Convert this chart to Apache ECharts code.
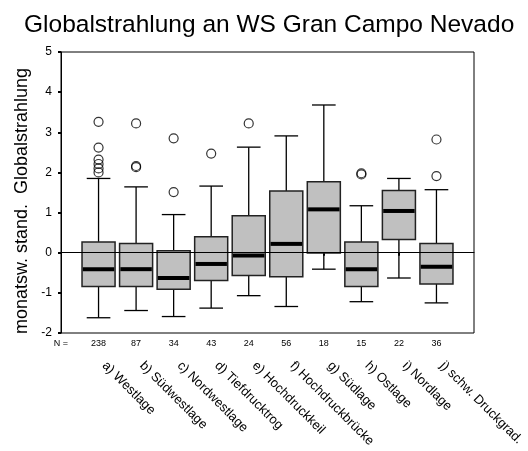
<!DOCTYPE html>
<html><head><meta charset="utf-8">
<script src="https://cdn.jsdelivr.net/npm/echarts@6/dist/echarts.min.js"></script>
<style>html,body{margin:0;padding:0;background:#fff}#c{width:528px;height:451px}</style>
</head><body><div id="c"></div>
<script>
const categories = ['a) Westlage','b) Südwestlage','c) Nordwestlage','d) Tiefdrucktrog','e) Hochdruckkeil','f) Hochdruckbrücke','g) Südlage','h) Ostlage','i) Nordlage','j) schw. Druckgrad.'];
const counts = [238, 87, 34, 43, 24, 56, 18, 15, 22, 36];
const whiskerLow  = [-1.62, -1.44, -1.59, -1.38, -1.07, -1.34, -0.41, -1.22, -0.63, -1.25];
const q1          = [-0.84, -0.84, -0.91, -0.69, -0.57, -0.60, -0.01, -0.84,  0.33, -0.78];
const median      = [-0.41, -0.41, -0.63, -0.28, -0.07,  0.22,  1.08, -0.41,  1.04, -0.35];
const q3          = [ 0.27,  0.23,  0.05,  0.40,  0.92,  1.54,  1.77,  0.27,  1.55,  0.23];
const whiskerHigh = [ 1.85,  1.64,  0.95,  1.66,  2.63,  2.91,  3.68,  1.17,  1.85,  1.57];
const outliers = [
  [3.26, 2.62, 2.32, 2.21, 2.10, 2.00],
  [3.22, 2.16, 2.13],
  [2.85, 1.51],
  [2.47],
  [3.22],
  [],
  [],
  [1.98, 1.95],
  [],
  [2.82, 1.91]
];
const yTicks = {min: -2, max: 5, interval: 1};
const title = 'Globalstrahlung an WS Gran Campo Nevado';
const yTitle = 'monatsw. stand.  Globalstrahlung';

const FONT = 'Liberation Sans, Arial, sans-serif';
// slots: empty slot at each end so boxes sit at positions 1..10
const slotNames = [''].concat(categories, ['']);
const slotCounts = [''].concat(counts.map(String), ['']);

const boxData = categories.map((c, i) => [i + 1, whiskerLow[i], q1[i], median[i], q3[i], whiskerHigh[i]]);
const outData = [];
outliers.forEach((arr, i) => arr.forEach(v => outData.push([i + 1, v])));

function renderBox(params, api) {
  const x = api.value(0);
  const band = api.size([1, 0])[0];
  const bw = band * 0.88, cw = band * 0.63;
  const pLow = api.coord([x, api.value(1)]);
  const pQ1 = api.coord([x, api.value(2)]);
  const pMed = api.coord([x, api.value(3)]);
  const pQ3 = api.coord([x, api.value(4)]);
  const pHigh = api.coord([x, api.value(5)]);
  const cx = pMed[0];
  const ls = {stroke: '#000', lineWidth: 1.3};
  return {
    type: 'group',
    children: [
      {type: 'line', shape: {x1: cx, y1: pLow[1], x2: cx, y2: pQ1[1]}, style: ls},
      {type: 'line', shape: {x1: cx, y1: pQ3[1], x2: cx, y2: pHigh[1]}, style: ls},
      {type: 'line', shape: {x1: cx - cw / 2, y1: pLow[1], x2: cx + cw / 2, y2: pLow[1]}, style: ls},
      {type: 'line', shape: {x1: cx - cw / 2, y1: pHigh[1], x2: cx + cw / 2, y2: pHigh[1]}, style: ls},
      {type: 'rect', shape: {x: cx - bw / 2, y: pQ3[1], width: bw, height: pQ1[1] - pQ3[1]},
       style: {fill: '#c0c0c0', stroke: '#222', lineWidth: 1.5}},
      {type: 'line', shape: {x1: cx - bw / 2 + 0.8, y1: pMed[1], x2: cx + bw / 2 - 0.8, y2: pMed[1]},
       style: {stroke: '#000', lineWidth: 4}}
    ]
  };
}

const chart = echarts.init(document.getElementById('c'), null, {renderer: 'canvas'});
chart.setOption({
  animation: false,
  backgroundColor: '#fff',
  textStyle: {fontFamily: FONT},
  title: {
    text: title, left: 19, top: 8,
    textStyle: {fontFamily: FONT, fontSize: 24.5, fontWeight: 'normal', color: '#000'}
  },
  grid: {left: 61, top: 52, right: 54, bottom: 118, show: true, borderColor: '#000', borderWidth: 1, backgroundColor: 'transparent'},
  xAxis: [
    {
      type: 'category', data: slotCounts, boundaryGap: false, position: 'bottom',
      axisLine: {show: true, lineStyle: {color: '#000', width: 1}},
      axisTick: {show: true, length: 3, lineStyle: {color: '#000', width: 2}, interval: (i) => i > 0 && i < slotCounts.length - 1},
      axisLabel: {interval: 0, margin: 6, fontSize: 9, color: '#000', fontFamily: FONT},
      splitLine: {show: false}
    },
    {
      type: 'category', data: slotNames, boundaryGap: false, position: 'bottom',
      axisLine: {show: false}, axisTick: {show: false},
      axisLabel: {interval: 0, margin: 25, rotate: -45, fontSize: 13, color: '#000', fontFamily: FONT, padding: [0, 0, 0, 8]},
      splitLine: {show: false}
    }
  ],
  yAxis: {
    type: 'value', min: yTicks.min, max: yTicks.max, interval: yTicks.interval,
    axisLine: {show: true, lineStyle: {color: '#000', width: 1}},
    axisTick: {show: true, length: 3, lineStyle: {color: '#000', width: 2}},
    axisLabel: {margin: 9, fontSize: 12, color: '#000', fontFamily: FONT},
    splitLine: {show: false}
  },
  graphic: [
    {type: 'text', x: 22, y: 201, rotation: Math.PI / 2,
     style: {text: yTitle, font: '18px ' + FONT, fill: '#000', align: 'center', verticalAlign: 'middle'}},
    {type: 'text', x: 68, y: 344,
     style: {text: 'N =', font: '9px ' + FONT, fill: '#000', align: 'right', verticalAlign: 'middle'}}
  ],
  series: [
    {
      type: 'custom', xAxisIndex: 0, renderItem: renderBox, data: boxData,
      encode: {x: 0, y: [1, 2, 3, 4, 5]}, z: 2, silent: true,
      markLine: {
        silent: true, symbol: 'none', label: {show: false},
        lineStyle: {color: '#000', width: 1, type: 'solid'},
        data: [{yAxis: 0}]
      }
    },
    {
      type: 'scatter', xAxisIndex: 0, data: outData, symbol: 'circle', symbolSize: 9, z: 4,
      itemStyle: {color: 'rgba(255,255,255,0)', borderColor: '#000', borderWidth: 1.2}
    }
  ]
});
</script></body></html>
